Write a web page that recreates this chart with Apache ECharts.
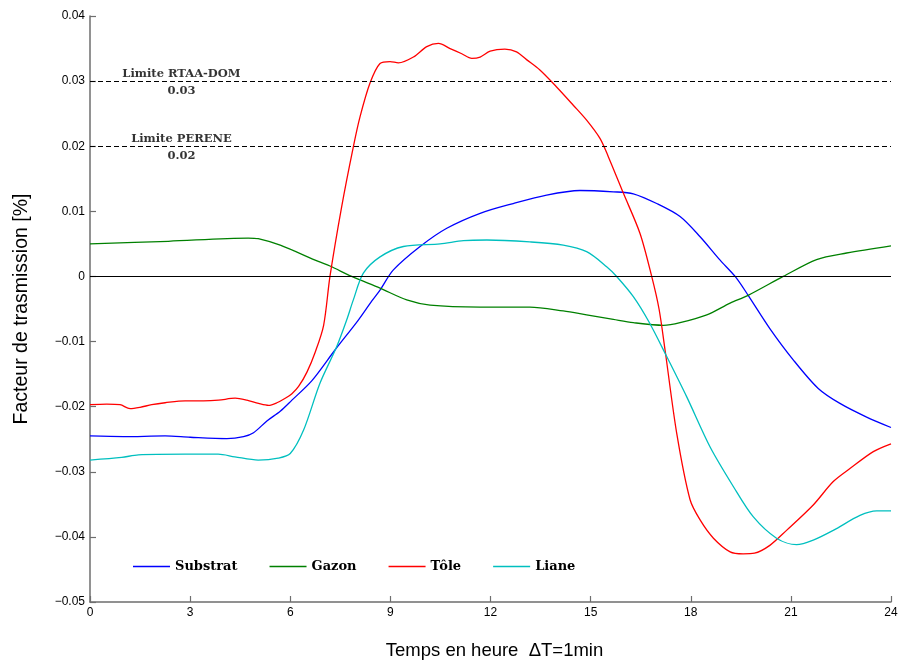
<!DOCTYPE html>
<html>
<head>
<meta charset="utf-8">
<script src="https://cdn.jsdelivr.net/npm/echarts@6/dist/echarts.min.js"></script>
<style>
html,body{margin:0;padding:0;background:#fff;overflow:hidden;}
#chart{width:899px;height:662px;}
</style>
</head>
<body>
<div id="chart"></div>
<script>
// ---- data (hours, values) ----
const xTicks = [0, 3, 6, 9, 12, 15, 18, 21, 24];
const yTicks = [-0.05, -0.04, -0.03, -0.02, -0.01, 0, 0.01, 0.02, 0.03, 0.04];

const substratHours = [0,1,2.25,3,4.1,4.6,4.9,5.3,5.7,6.05,6.65,7.34,8.04,8.44,8.69,9.09,9.89,10.69,11.69,12.68,13.68,14.68,15.68,16.28,16.98,17.68,18.28,18.88,19.33,19.72,20.37,21.07,21.82,22.47,23.27,24];
const substratValues = [-0.0245,-0.0246,-0.0245,-0.0247,-0.0249,-0.0246,-0.0240,-0.0222,-0.0207,-0.0190,-0.0160,-0.0113,-0.0067,-0.0038,-0.0021,0.0010,0.0046,0.0074,0.0097,0.0112,0.0125,0.0132,0.0130,0.0127,0.0112,0.0092,0.0061,0.0025,0.0000,-0.0029,-0.0080,-0.0128,-0.0172,-0.0195,-0.0216,-0.0232];

const gazonHours = [0,2.35,4.74,5.04,5.7,6.84,7.19,7.84,8.69,9.49,10.19,11.69,13.18,14.18,14.88,15.68,16.28,17.18,17.68,18.48,19.18,19.72,20.77,21.77,22.67,24];
const gazonValues = [0.0050,0.0054,0.0059,0.0058,0.0048,0.0023,0.0016,0.0000,-0.0018,-0.0036,-0.0044,-0.0047,-0.0047,-0.0053,-0.0059,-0.0066,-0.0071,-0.0075,-0.0071,-0.0059,-0.0041,-0.0029,0.0000,0.0026,0.0036,0.0047];

const toleHours = [0,0.5,0.9,1.2,1.5,1.85,2.25,2.85,3.4,3.85,4.35,4.7,5.05,5.35,5.6,5.85,6.05,6.25,6.5,6.75,7.0,7.19,7.54,7.89,8.09,8.39,8.69,8.99,9.24,9.69,10.09,10.44,10.79,11.14,11.44,11.69,11.99,12.43,12.78,13.08,13.48,13.98,14.48,14.88,15.28,15.53,15.98,16.48,16.83,17.05,17.23,17.58,17.98,18.28,18.68,19.18,19.57,19.91,20.37,20.87,21.67,22.27,22.77,23.47,24];
const toleValues = [-0.0197,-0.0196,-0.0197,-0.0203,-0.0201,-0.0197,-0.0194,-0.0191,-0.0191,-0.0190,-0.0187,-0.0190,-0.0195,-0.0198,-0.0194,-0.0187,-0.0180,-0.0169,-0.0147,-0.0116,-0.0075,0.0000,0.0107,0.0199,0.0245,0.0297,0.0327,0.0330,0.0328,0.0337,0.0353,0.0358,0.0350,0.0342,0.0335,0.0337,0.0346,0.0349,0.0345,0.0333,0.0317,0.0291,0.0263,0.0240,0.0212,0.0184,0.0128,0.0066,0.0000,-0.0050,-0.0113,-0.0241,-0.0343,-0.0374,-0.0402,-0.0423,-0.0426,-0.0425,-0.0413,-0.0390,-0.0351,-0.0315,-0.0295,-0.0269,-0.0257];

const lianeHours = [0,0.95,1.45,2.85,3.84,4.34,5.04,5.64,6.0,6.4,6.89,7.39,7.69,7.89,8.19,8.69,9.39,10.49,11.19,11.89,13.18,14.18,14.88,15.48,15.78,16.28,16.75,17.28,17.88,18.58,19.28,19.87,20.57,21.17,21.67,22.27,23.07,23.57,24];
const lianeValues = [-0.0282,-0.0278,-0.0274,-0.0273,-0.0273,-0.0277,-0.0282,-0.0279,-0.0272,-0.0236,-0.0164,-0.0108,-0.0067,-0.0036,0.0005,0.0030,0.0046,0.0050,0.0055,0.0056,0.0053,0.0048,0.0038,0.0015,0.0000,-0.0031,-0.0070,-0.0123,-0.0185,-0.0262,-0.0323,-0.0369,-0.0402,-0.0412,-0.0405,-0.0390,-0.0367,-0.0360,-0.0360];

const seriesNames = ['Substrat', 'Gazon', 'T\u00f4le', 'Liane'];
const seriesColors = ['#0000ff', '#008000', '#ff0000', '#00bfbf'];

const limitNames = ['Limite RTAA-DOM', 'Limite PERENE'];
const limitValues = [0.03, 0.02];
const limitLabelHour = 2.74;

const xName = 'Temps en heure  \u0394T=1min';
const yName = 'Facteur de trasmission [%]';

// ---- build ----
function pairs(h, v) { return h.map((x, i) => [x, v[i]]); }
const allSeries = [
  pairs(substratHours, substratValues),
  pairs(gazonHours, gazonValues),
  pairs(toleHours, toleValues),
  pairs(lianeHours, lianeValues)
];

function fmtY(v) {
  const r = Math.round(v * 100) / 100;
  if (r === 0) return '0';
  return (r < 0 ? '\u2212' : '') + Math.abs(r).toFixed(2);
}

const serifBold = '"DejaVu Serif", "Liberation Serif", serif';
const sans = '"Liberation Sans", Arial, sans-serif';

const chart = echarts.init(document.getElementById('chart'), null, {renderer: 'canvas'});
const option = {
  animation: false,
  backgroundColor: '#ffffff',
  grid: {left: 90, right: 8, top: 16, bottom: 60, containLabel: false, outerBoundsMode: 'none'},
  xAxis: {
    type: 'value', min: xTicks[0], max: xTicks[xTicks.length - 1], interval: 3,
    name: xName, nameLocation: 'middle', nameGap: 39,
    nameTextStyle: {fontFamily: sans, fontSize: 18.5, color: '#000', padding: [0, 0, 0, 8]},
    axisLine: {show: true, onZero: false, lineStyle: {color: '#6e6e6e', width: 1.5}},
    axisTick: {show: true, inside: true, length: 6, lineStyle: {color: '#6e6e6e', width: 1.2}},
    axisLabel: {fontFamily: sans, fontSize: 12, color: '#000', margin: 5},
    splitLine: {show: false}
  },
  yAxis: {
    type: 'value', min: yTicks[0], max: yTicks[yTicks.length - 1], interval: 0.01,
    name: yName, nameLocation: 'middle', nameGap: 58, nameRotate: 90,
    nameTextStyle: {fontFamily: sans, fontSize: 19.5, color: '#000'},
    axisLine: {show: true, onZero: false, lineStyle: {color: '#6e6e6e', width: 1.5}},
    axisTick: {show: true, inside: true, length: 6, lineStyle: {color: '#6e6e6e', width: 1.2}},
    axisLabel: {fontFamily: sans, fontSize: 12, color: '#000', margin: 5, formatter: fmtY},
    splitLine: {show: false}
  },
  legend: {
    data: seriesNames,
    left: 133, top: 560, padding: 0,
    itemWidth: 37, itemHeight: 14, itemGap: 32,
    icon: 'path://M0,0 L37,0 L37,1.4 L0,1.4 Z',
    textStyle: {fontFamily: serifBold, fontWeight: 'bold', fontSize: 13, color: '#000', padding: [0, 0, 0, 0]}
  },
  series: [
    {
      type: 'scatter', name: 'limits', symbolSize: 0, silent: true, z: 1,
      data: limitValues.map((v, i) => ({value: [limitLabelHour, v], name: limitNames[i]})),
      label: {
        show: true, position: 'inside', color: '#000', offset: [0, 1.5],
        fontFamily: serifBold, fontWeight: 'bold', fontSize: 11.5, lineHeight: 17,
        formatter: p => p.name + '\n' + p.value[1].toFixed(2)
      },
      markLine: {
        silent: true, symbol: 'none', label: {show: false},
        data: [
          {yAxis: limitValues[0], lineStyle: {type: [5, 3], color: '#000', width: 1}},
          {yAxis: limitValues[1], lineStyle: {type: [5, 3], color: '#000', width: 1}},
          {yAxis: 0, lineStyle: {type: 'solid', color: '#000', width: 1.2}}
        ]
      }
    }
  ].concat(allSeries.map((d, i) => ({
    type: 'line', name: seriesNames[i], data: d,
    symbol: 'none', showSymbol: false, smooth: 0.3,
    lineStyle: {color: seriesColors[i], width: 1.3},
    itemStyle: {color: seriesColors[i]},
    z: 3
  })))
};
chart.setOption(option);
</script>
</body>
</html>
